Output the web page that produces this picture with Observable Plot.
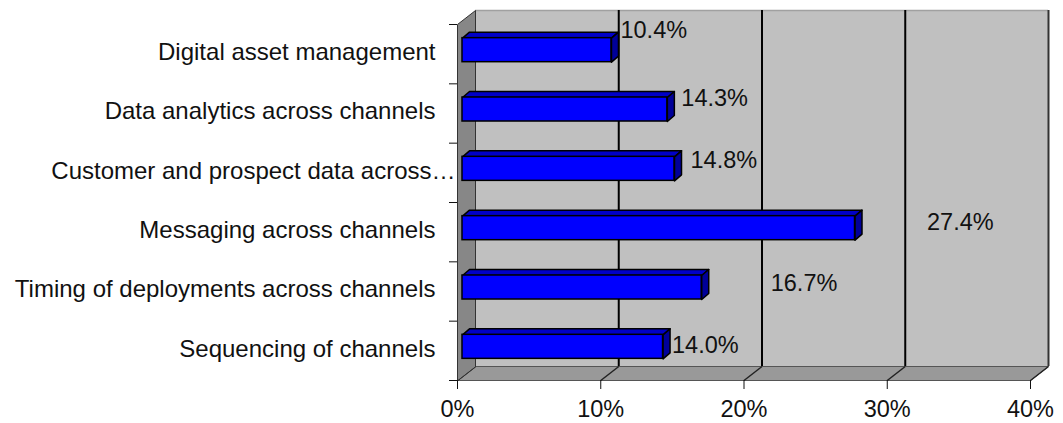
<!DOCTYPE html>
<html><head><meta charset="utf-8">
<script src="https://cdn.jsdelivr.net/npm/d3@7"></script>
<script src="https://cdn.jsdelivr.net/npm/@observablehq/plot@0.6"></script>
<style>html,body{margin:0;padding:0;background:#fff}</style>
</head><body><div id="chart"></div>
<script>
// ---- data ----
const categories = [
  "Digital asset management",
  "Data analytics across channels",
  "Customer and prospect data across…",
  "Messaging across channels",
  "Timing of deployments across channels",
  "Sequencing of channels"
];
const values = [10.4, 14.3, 14.8, 27.4, 16.7, 14.0];
const valueLabels = ["10.4%", "14.3%", "14.8%", "27.4%", "16.7%", "14.0%"];
const xTicks = [0, 10, 20, 30, 40];
const xTickLabels = ["0%", "10%", "20%", "30%", "40%"];

// ---- layout ----
const W = 1063, H = 423, mL = 457, mR = 33, mT = 24, mB = 43;
const xMax = 40, n = categories.length;
const pxX = (W - mL - mR) / xMax, pxY = (H - mT - mB) / n;
const wallDX = 18, wallDY = 14;   // depth of the 3-D box (px)
const barOX = 5, barOY = 4;       // offset of bar front face (px)
const barDX = 7, barDY = 6;       // depth of the bars (px)
const barH = 0.405;               // bar thickness (band fraction)
const labelDX = [14, 19, 21, 77, 74, 14];
const labelDY = [-24, -15, -12, -10, -8, -5];
const catDX = [-22, -22, -2, -22, -22, -22];

const wdx = wallDX / pxX, wdy = wallDY / pxY;
const bdx = barDX / pxX, bdy = barDY / pxY;

const rows = categories.map((c, i) => ({cat: c, value: values[i], label: valueLabels[i], pos: n - 1 - i + 0.5, i}));

const leftWall = [{x: 0, y: 0}, {x: 0, y: n}, {x: wdx, y: n + wdy}, {x: wdx, y: wdy}];
const floor = [{x: 0, y: 0}, {x: xMax, y: 0}, {x: xMax + wdx, y: wdy}, {x: wdx, y: wdy}];

const topFaces = rows.flatMap(r => {
  const yT = r.pos + barH / 2;
  return [{x: 0, y: yT}, {x: r.value, y: yT}, {x: r.value + bdx, y: yT + bdy}, {x: bdx, y: yT + bdy}].map(p => ({...p, id: r.i}));
});
const sideFaces = rows.flatMap(r => {
  const yT = r.pos + barH / 2, yB = r.pos - barH / 2;
  return [{x: r.value, y: yB}, {x: r.value, y: yT}, {x: r.value + bdx, y: yT + bdy}, {x: r.value + bdx, y: yB + bdy}].map(p => ({...p, id: r.i}));
});

const chart = Plot.plot({
  width: W, height: H,
  marginLeft: mL, marginRight: mR, marginTop: mT, marginBottom: mB,
  x: {domain: [0, xMax], axis: null},
  y: {domain: [0, n], axis: null},
  style: {fontFamily: "'Liberation Sans', Arial, sans-serif", fontSize: "23.5px", color: "#111", background: "#fff", overflow: "visible"},
  marks: [
    // back wall
    Plot.rect([{}], {x1: 0, x2: xMax, y1: 0, y2: n, dx: wallDX, dy: -wallDY, fill: "#c0c0c0"}),
    Plot.ruleY([n], {x1: 0, x2: xMax, dx: wallDX, dy: -wallDY, stroke: "#a0a0a0", strokeWidth: 1.5}),
    Plot.ruleX(xTicks.slice(1, -1), {y1: 0, y2: n, dx: wallDX, dy: -wallDY, stroke: "#000", strokeWidth: 2}),
    Plot.ruleX([xMax], {y1: 0, y2: n, dx: wallDX, dy: -wallDY, stroke: "#333", strokeWidth: 2}),
    // floor
    Plot.line(floor, {x: "x", y: "y", curve: "linear-closed", fill: "#999999", stroke: "#555", strokeWidth: 1}),
    Plot.link(xTicks, {x1: d => d, y1: 0, x2: d => d + wdx, y2: wdy, stroke: "#222", strokeWidth: 1.5}),
    // left wall
    Plot.line(leftWall, {x: "x", y: "y", curve: "linear-closed", fill: "#878787", stroke: "#333", strokeWidth: 1}),
    // bars
    Plot.line(topFaces, {x: "x", y: "y", z: "id", curve: "linear-closed", fill: "#0000c8", stroke: "#000", strokeWidth: 1.5, dx: barOX, dy: -barOY}),
    Plot.line(sideFaces, {x: "x", y: "y", z: "id", curve: "linear-closed", fill: "#000099", stroke: "#000", strokeWidth: 1.5, dx: barOX, dy: -barOY}),
    Plot.rect(rows, {x1: 0, x2: "value", y1: r => r.pos - barH / 2, y2: r => r.pos + barH / 2, dx: barOX, dy: -barOY, fill: "#0000ff", stroke: "#000", strokeWidth: 1.5}),
    // value labels
    ...rows.map((r, i) => Plot.text([r], {x: "value", y: "pos", text: "label", textAnchor: "start", dx: labelDX[i], dy: labelDY[i], fill: "#111"})),
    // category labels
    ...rows.map((r, i) => Plot.text([r], {x: 0, y: "pos", text: "cat", textAnchor: "end", dx: catDX[i], dy: -2, fontSize: 24, fill: "#111"})),
    // axes
    Plot.axisX({ticks: xTicks, tickFormat: d => xTickLabels[xTicks.indexOf(d)], tickSize: 9, tickPadding: 11, label: null}),
    Plot.axisY({ticks: d3.range(n + 1), tickSize: 8, tickFormat: () => "", label: null})
  ]
});
document.getElementById("chart").appendChild(chart);
</script>
</body></html>
